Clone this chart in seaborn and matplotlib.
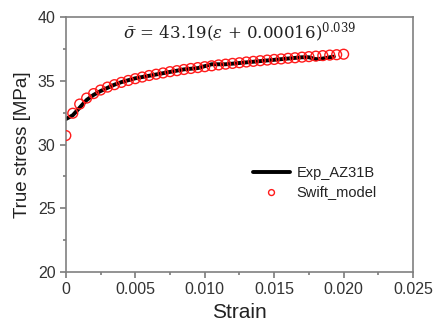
import numpy as np
import pandas as pd
import seaborn as sns
import matplotlib.pyplot as plt
from matplotlib.ticker import MultipleLocator

sns.set_theme(style="ticks")
plt.rcParams["font.family"] = ["Liberation Sans", "DejaVu Sans"]
plt.rcParams["mathtext.fontset"] = "dejavuserif"

exp_strain = [0.0, 0.0005, 0.001, 0.0015, 0.002, 0.0025, 0.003, 0.0035, 0.004, 0.0045,
              0.005, 0.0055, 0.006, 0.0065, 0.007, 0.0075, 0.008, 0.0085, 0.009, 0.0095,
              0.010, 0.0105, 0.011, 0.0115, 0.012, 0.0125, 0.013, 0.0135, 0.014, 0.0145,
              0.015, 0.0155, 0.016, 0.0165, 0.017, 0.0175, 0.018, 0.0185, 0.019, 0.0193]
exp_stress = [32.0, 32.3, 32.9, 33.5, 33.9, 34.2, 34.45, 34.7, 34.9, 35.05,
              35.2, 35.3, 35.4, 35.5, 35.6, 35.7, 35.8, 35.9, 35.95, 36.0,
              36.15, 36.3, 36.3, 36.3, 36.35, 36.4, 36.45, 36.5, 36.55, 36.6,
              36.65, 36.7, 36.75, 36.8, 36.85, 36.85, 36.7, 36.75, 36.85, 36.9]

# Swift model points
swift_strain = [0.0, 0.0005, 0.001, 0.0015, 0.002, 0.0025, 0.003, 0.0035, 0.004, 0.0045,
                0.005, 0.0055, 0.006, 0.0065, 0.007, 0.0075, 0.008, 0.0085, 0.009, 0.0095,
                0.010, 0.0105, 0.011, 0.0115, 0.012, 0.0125, 0.013, 0.0135, 0.014, 0.0145,
                0.015, 0.0155, 0.016, 0.0165, 0.017, 0.0175, 0.018, 0.0185, 0.019, 0.0195, 0.020]
swift_stress = [30.71, 32.46, 33.18, 33.65, 34.00, 34.28, 34.51, 34.70, 34.88, 35.03,
                35.17, 35.30, 35.42, 35.52, 35.62, 35.72, 35.80, 35.89, 35.97, 36.04,
                36.11, 36.18, 36.25, 36.31, 36.37, 36.42, 36.48, 36.53, 36.58, 36.63,
                36.68, 36.72, 36.77, 36.81, 36.86, 36.90, 36.94, 36.98, 37.02, 37.05, 37.09]

exp_df = pd.DataFrame({"strain": exp_strain, "stress": exp_stress})
swift_df = pd.DataFrame({"strain": swift_strain, "stress": swift_stress})

fig = plt.figure(figsize=(4.33, 3.29), dpi=100)
ax = fig.add_axes([0.152, 0.173, 0.802, 0.775])

sns.lineplot(data=exp_df, x="strain", y="stress", ax=ax, color="black", lw=2.8,
             label="Exp_AZ31B")
sns.scatterplot(data=swift_df, x="strain", y="stress", ax=ax, marker="o", s=50,
                facecolors="none", edgecolor="#ff1a1a", linewidth=1.0,
                label="Swift_model", zorder=3)

ax.set_xlim(0, 0.025)
ax.set_ylim(20, 40)
ax.set_xticks([0, 0.005, 0.010, 0.015, 0.020, 0.025])
ax.set_xticklabels(["0", "0.005", "0.010", "0.015", "0.020", "0.025"])
ax.xaxis.set_minor_locator(MultipleLocator(0.0025))
ax.yaxis.set_major_locator(MultipleLocator(5))
ax.yaxis.set_minor_locator(MultipleLocator(2.5))

for s in ax.spines.values():
    s.set_visible(True)
    s.set_color("#808080")
    s.set_linewidth(1.2)
ax.tick_params(which="both", direction="out", color="#707070", labelcolor="#333333",
               labelsize=11.5, top=False, right=False, bottom=True, left=True)
ax.tick_params(which="major", length=4.5, width=1.1, pad=3)
ax.tick_params(which="minor", length=2.5, width=1.1)

ax.set_xlabel("Strain", fontsize=15, color="#222222", labelpad=4)
ax.set_ylabel("True stress [MPa]", fontsize=13.5, color="#222222", labelpad=5)

ax.text(0.0125, 38.75, r"$\bar{\sigma}$ = 43.19($\varepsilon$ + 0.00016)$^{0.039}$",
        family=["DejaVu Serif"], fontsize=12, ha="center", va="center", color="#222222")

leg = ax.legend(loc="center right", bbox_to_anchor=(0.92, 0.35), frameon=False,
                fontsize=10.5, handlelength=2.6, handletextpad=0.4, markerscale=0.6,
                labelspacing=0.35, borderaxespad=0.2)
for t in leg.get_texts():
    t.set_color("#222222")

fig.savefig("out.png", dpi=100)
